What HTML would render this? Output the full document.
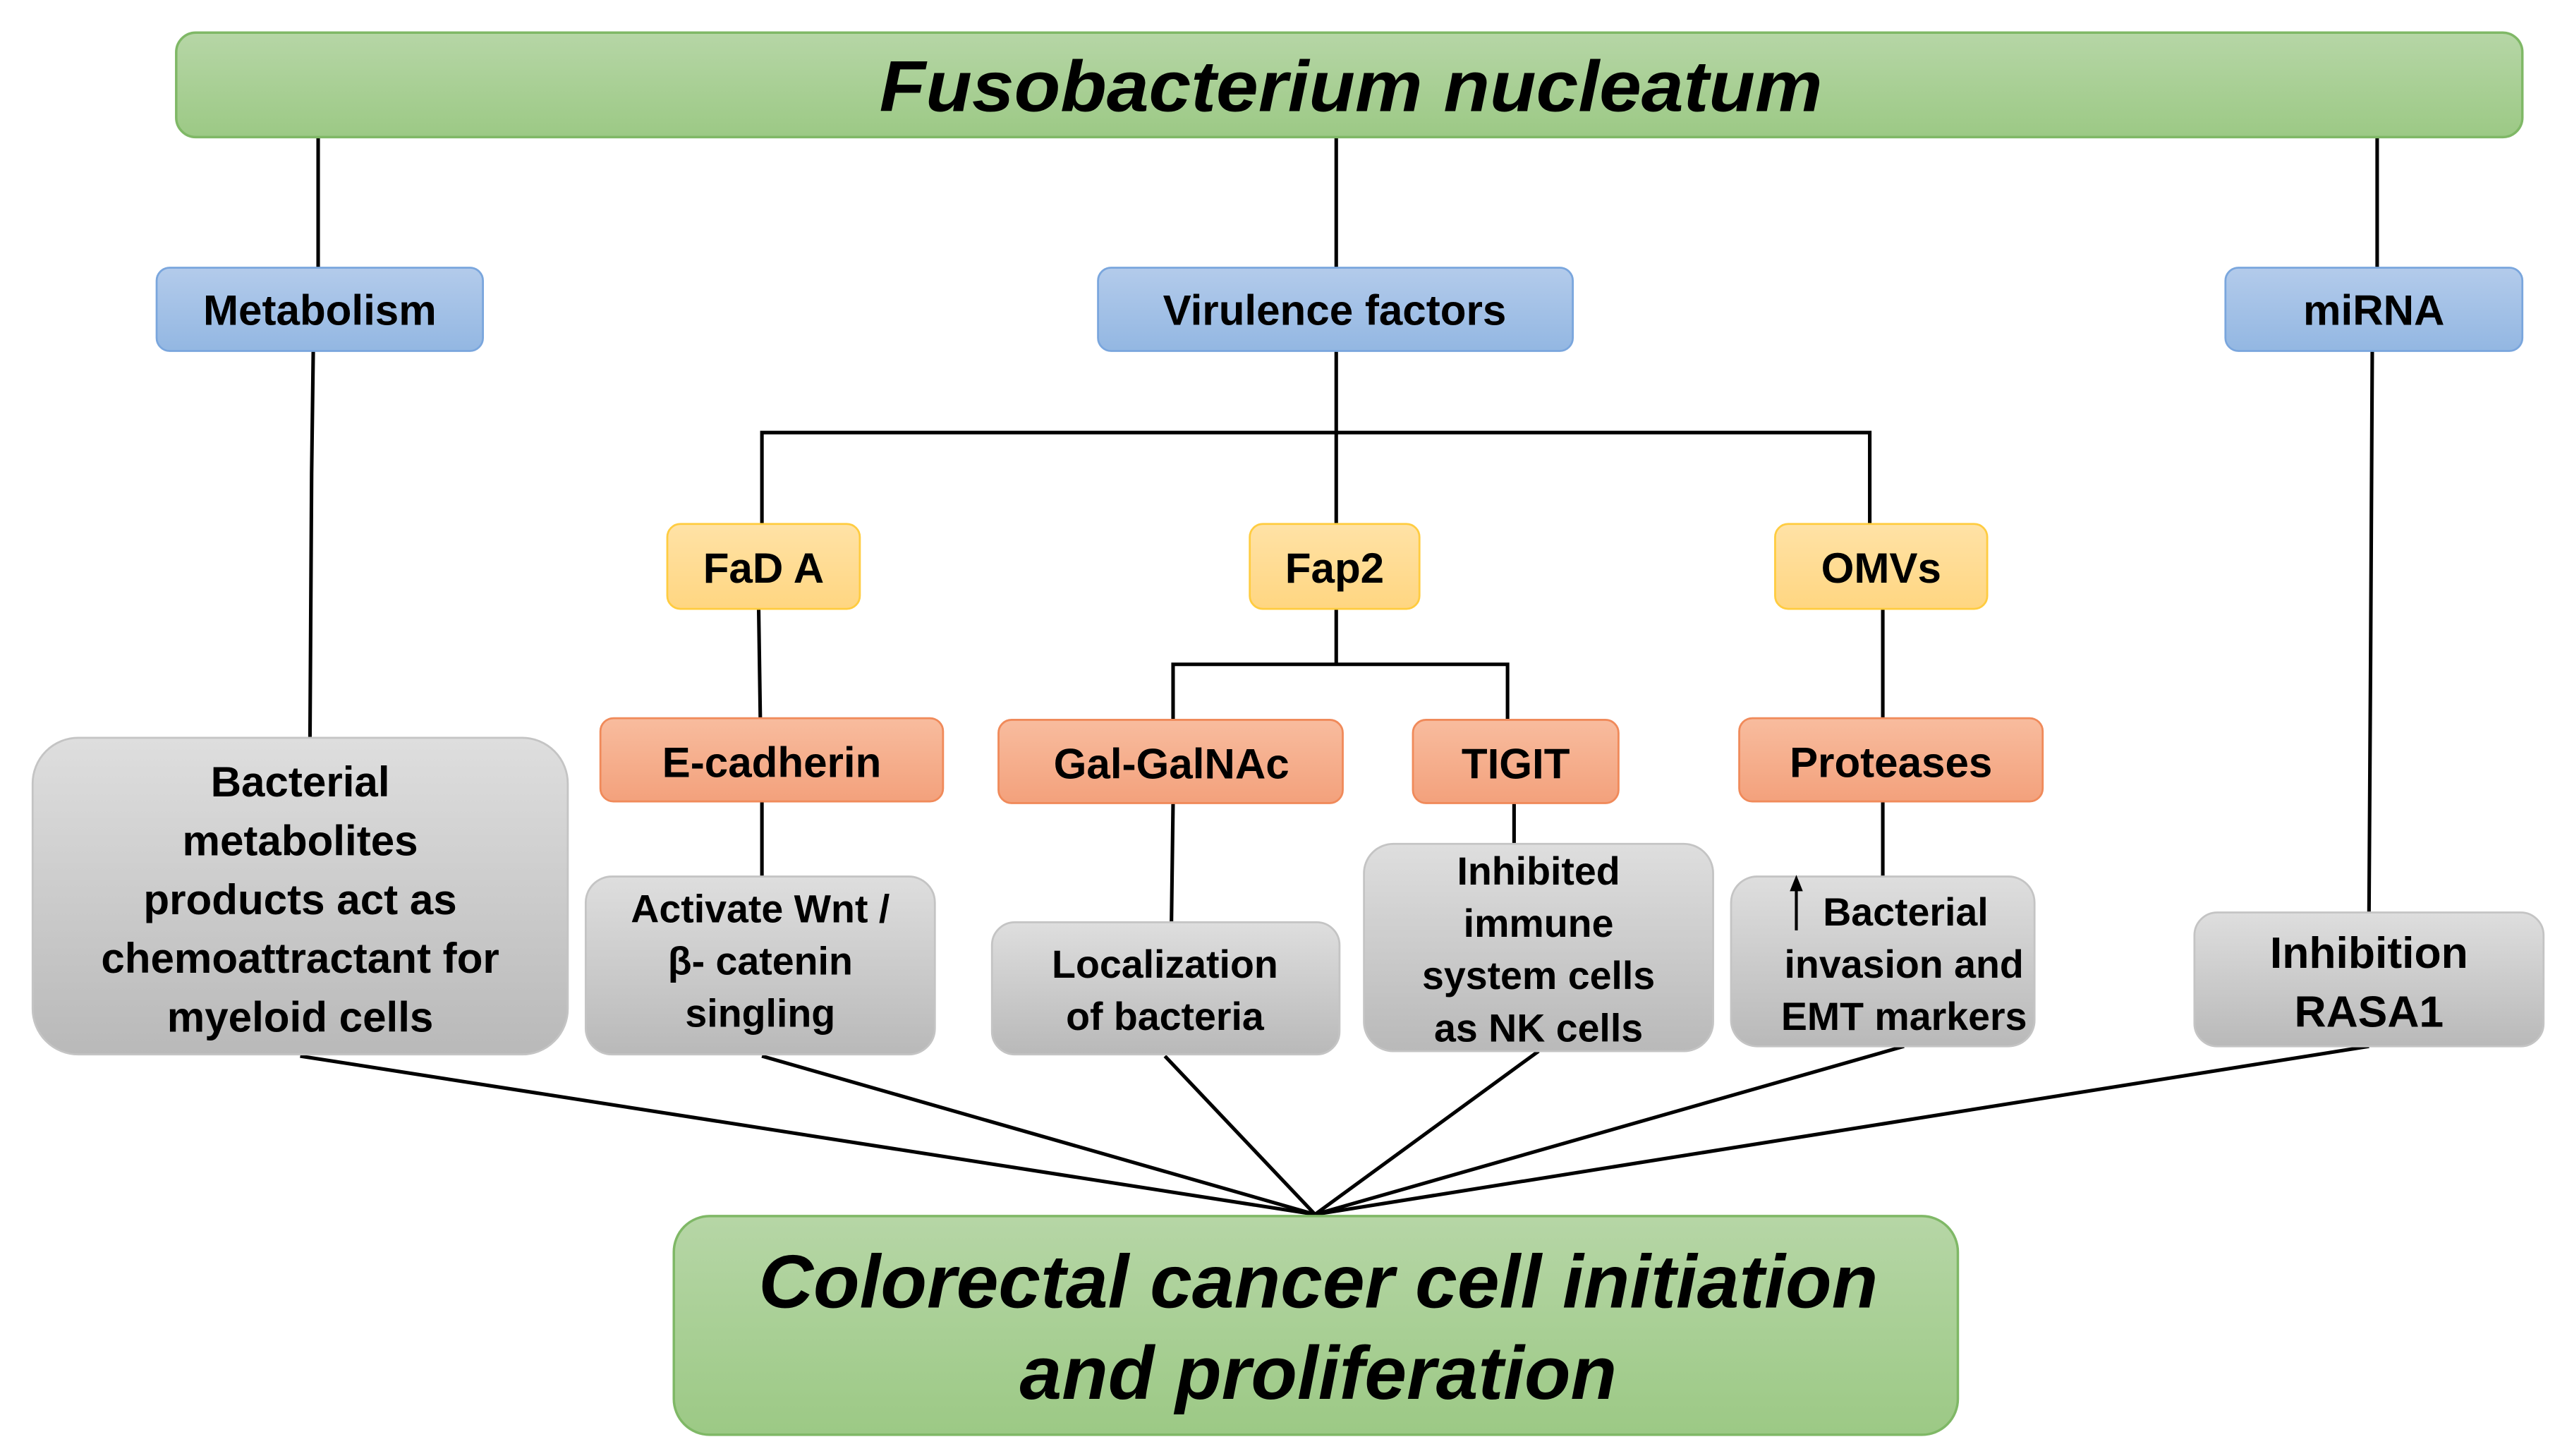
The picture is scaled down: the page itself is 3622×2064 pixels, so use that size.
<!DOCTYPE html>
<html><head><meta charset="utf-8"><style>
html,body{margin:0;padding:0;background:#fff;}
svg{display:block;}
text{font-family:"Liberation Sans",Arial,sans-serif;font-weight:bold;fill:#000;text-anchor:middle;}
</style></head><body>
<svg width="3622" height="2064" viewBox="0 0 1566 892" preserveAspectRatio="none" xmlns="http://www.w3.org/2000/svg">
<defs>
<linearGradient id="gG" x1="0" y1="0" x2="0" y2="1"><stop offset="0" stop-color="#b6d6a6"/><stop offset="1" stop-color="#9cc985"/></linearGradient>
<linearGradient id="gB" x1="0" y1="0" x2="0" y2="1"><stop offset="0" stop-color="#b3cbeb"/><stop offset="1" stop-color="#93b7e2"/></linearGradient>
<linearGradient id="gY" x1="0" y1="0" x2="0" y2="1"><stop offset="0" stop-color="#ffe2a6"/><stop offset="1" stop-color="#ffd681"/></linearGradient>
<linearGradient id="gO" x1="0" y1="0" x2="0" y2="1"><stop offset="0" stop-color="#f8bc9e"/><stop offset="1" stop-color="#f3a17c"/></linearGradient>
<linearGradient id="gR" x1="0" y1="0" x2="0" y2="1"><stop offset="0" stop-color="#dedede"/><stop offset="1" stop-color="#b9b9b9"/></linearGradient>
</defs>
<g stroke="#000" stroke-width="2.2" fill="none">
<line x1="195" y1="84" x2="195" y2="164"/>
<line x1="819" y1="84" x2="819" y2="164"/>
<line x1="1457" y1="84" x2="1457" y2="164"/>
<polyline points="192,215 191,290 190,452"/>
<line x1="819" y1="215" x2="819" y2="321"/>
<polyline points="467,321 467,265 1146,265 1146,321"/>
<polyline points="465,373 466,440"/>
<line x1="819" y1="373" x2="819" y2="407"/>
<polyline points="719,441 719,407 924,407 924,441"/>
<line x1="1154" y1="373" x2="1154" y2="440"/>
<line x1="467" y1="491" x2="467" y2="537"/>
<polyline points="719,492 718,565"/>
<line x1="928" y1="492" x2="928" y2="517"/>
<line x1="1154" y1="491" x2="1154" y2="537"/>
<polyline points="1454,215 1453,400 1452,559"/>
<line x1="184" y1="647" x2="806" y2="744"/>
<line x1="467" y1="647" x2="806" y2="744"/>
<line x1="714" y1="647" x2="806" y2="744"/>
<line x1="943" y1="644" x2="806" y2="744"/>
<line x1="1167" y1="641" x2="806" y2="744"/>
<line x1="1452" y1="641" x2="806" y2="744"/>
</g>
<rect x="108" y="20" width="1438" height="64" rx="12" fill="url(#gG)" stroke="#7fb866" stroke-width="1.5"/>
<text x="828" y="68" font-size="44" font-style="italic" textLength="578" lengthAdjust="spacingAndGlyphs">Fusobacterium nucleatum</text>
<rect x="96" y="164" width="200" height="51" rx="8" fill="url(#gB)" stroke="#7aa6dd" stroke-width="1.2"/>
<text x="196" y="199" font-size="26">Metabolism</text>
<rect x="673" y="164" width="291" height="51" rx="8" fill="url(#gB)" stroke="#7aa6dd" stroke-width="1.2"/>
<text x="818" y="199" font-size="26">Virulence factors</text>
<rect x="1364" y="164" width="182" height="51" rx="8" fill="url(#gB)" stroke="#7aa6dd" stroke-width="1.2"/>
<text x="1455" y="199" font-size="26">miRNA</text>
<rect x="409" y="321" width="118" height="52" rx="8" fill="url(#gY)" stroke="#ffcc40" stroke-width="1.2"/>
<text x="468" y="357" font-size="26">FaD A</text>
<rect x="766" y="321" width="104" height="52" rx="8" fill="url(#gY)" stroke="#ffcc40" stroke-width="1.2"/>
<text x="818" y="357" font-size="26">Fap2</text>
<rect x="1088" y="321" width="130" height="52" rx="8" fill="url(#gY)" stroke="#ffcc40" stroke-width="1.2"/>
<text x="1153" y="357" font-size="26">OMVs</text>
<rect x="368" y="440" width="210" height="51" rx="8" fill="url(#gO)" stroke="#f08a5a" stroke-width="1.2"/>
<text x="473" y="476" font-size="26">E-cadherin</text>
<rect x="612" y="441" width="211" height="51" rx="8" fill="url(#gO)" stroke="#f08a5a" stroke-width="1.2"/>
<text x="718" y="477" font-size="26">Gal-GalNAc</text>
<rect x="866" y="441" width="126" height="51" rx="8" fill="url(#gO)" stroke="#f08a5a" stroke-width="1.2"/>
<text x="929" y="477" font-size="26">TIGIT</text>
<rect x="1066" y="440" width="186" height="51" rx="8" fill="url(#gO)" stroke="#f08a5a" stroke-width="1.2"/>
<text x="1159" y="476" font-size="26">Proteases</text>
<g stroke="#c4c4c4" stroke-width="1.2" fill="url(#gR)">
<rect x="20" y="452" width="328" height="194" rx="28"/>
<rect x="359" y="537" width="214" height="109" rx="16"/>
<rect x="608" y="565" width="213" height="81" rx="14"/>
<rect x="836" y="517" width="214" height="127" rx="18"/>
<rect x="1061" y="537" width="186" height="104" rx="16"/>
<rect x="1345" y="559" width="214" height="82" rx="14"/>
</g>
<g font-size="26">
<text x="184" y="488">Bacterial</text>
<text x="184" y="524">metabolites</text>
<text x="184" y="560">products act as</text>
<text x="184" y="596">chemoattractant for</text>
<text x="184" y="632">myeloid cells</text>
</g>
<g font-size="24">
<text x="466" y="565">Activate Wnt /</text>
<text x="466" y="597">β- catenin</text>
<text x="466" y="629">singling</text>
<text x="714" y="599">Localization</text>
<text x="714" y="631">of bacteria</text>
<text x="943" y="542">Inhibited</text>
<text x="943" y="574">immune</text>
<text x="943" y="606">system cells</text>
<text x="943" y="638">as NK cells</text>
<text x="1168" y="567">Bacterial</text>
<text x="1167" y="599">invasion and</text>
<text x="1167" y="631">EMT markers</text>
</g>
<line x1="1101" y1="570" x2="1101" y2="543" stroke="#000" stroke-width="1.8"/>
<polygon points="1101,536 1097,546 1105,546" fill="#000"/>
<g font-size="27">
<text x="1452" y="593">Inhibition</text>
<text x="1452" y="629">RASA1</text>
</g>
<rect x="413" y="745" width="787" height="134" rx="22" fill="url(#gG)" stroke="#7fb866" stroke-width="1.5"/>
<g font-size="46" font-style="italic">
<text x="808" y="801" textLength="686" lengthAdjust="spacingAndGlyphs">Colorectal cancer cell initiation</text>
<text x="808" y="857" textLength="366" lengthAdjust="spacingAndGlyphs">and proliferation</text>
</g>
</svg>
</body></html>
